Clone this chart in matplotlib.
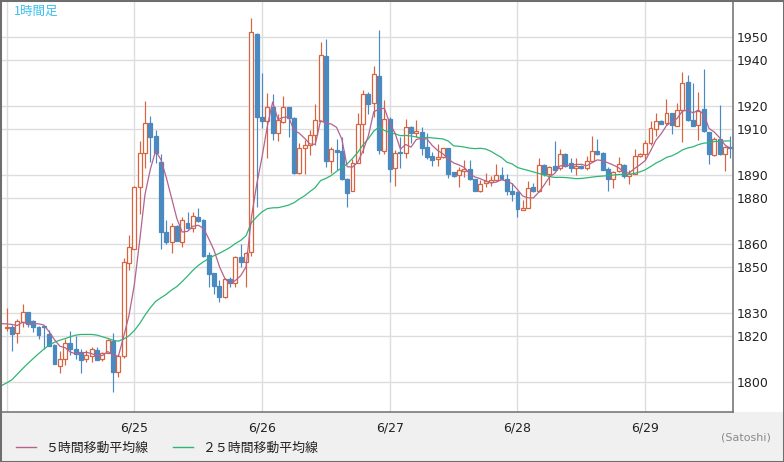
import matplotlib
matplotlib.use('Agg')
import matplotlib.pyplot as plt
from matplotlib.lines import Line2D
from matplotlib.patches import Rectangle
import numpy as np
import pandas as pd


######### Data (hourly candles, 6/24 00:00 -> 6/29 16:00) #########
opens = [
    1823.5, 1823.9, 1821.3, 1826.3, 1830.5, 1826.5, 1823.9, 1824.3, 1820.8, 1816.2,
    1807.2, 1810.0, 1817.3, 1814.4, 1813.0, 1810.0, 1811.6, 1814.0, 1810.1, 1812.9,
    1818.1, 1804.3, 1811.4, 1852.0, 1858.1, 1885.1, 1899.6, 1912.6, 1907.1, 1895.9,
    1865.5, 1861.2, 1868.0, 1861.2, 1869.1, 1867.0, 1871.9, 1870.6, 1855.4, 1847.7,
    1841.9, 1837.0, 1844.8, 1843.0, 1854.6, 1852.5, 1856.5, 1951.4, 1915.2, 1913.6,
    1919.9, 1908.3, 1913.3, 1919.6, 1914.8, 1891.2, 1901.7, 1903.2, 1907.5, 1913.8,
    1942.0, 1896.4, 1901.0, 1900.6, 1888.6, 1883.3, 1895.5, 1912.3, 1925.4, 1921.3,
    1933.2, 1900.7, 1914.6, 1893.0, 1900.1, 1899.6, 1910.9, 1908.3, 1909.0, 1902.5,
    1898.4, 1897.0, 1898.1, 1901.7, 1891.6, 1890.1, 1892.0, 1892.6, 1888.4, 1883.3,
    1886.5, 1887.0, 1888.1, 1890.1, 1888.6, 1883.3, 1882.6, 1875.1, 1875.8, 1884.8,
    1883.0, 1894.5, 1890.7, 1893.9, 1893.2, 1899.3, 1895.4, 1893.2, 1894.2, 1893.2,
    1896.1, 1900.7, 1899.7, 1892.8, 1888.4, 1891.7, 1894.5, 1889.6, 1890.7, 1898.3,
    1899.3, 1904.1, 1910.3, 1913.8, 1912.8, 1917.1, 1911.6, 1918.3, 1930.4, 1913.9,
    1912.0, 1918.8, 1908.7, 1898.8, 1905.8, 1899.4, 1902.3,
]
highs = [
    1832.2, 1824.9, 1827.5, 1834.0, 1830.6, 1827.2, 1824.6, 1824.6, 1822.7, 1816.5,
    1813.6, 1818.7, 1822.4, 1820.1, 1814.4, 1814.0, 1815.2, 1815.5, 1813.3, 1818.8,
    1821.3, 1812.3, 1854.0, 1864.0, 1885.2, 1904.9, 1922.3, 1915.8, 1909.7, 1899.3,
    1870.4, 1869.4, 1868.2, 1872.0, 1874.2, 1874.0, 1875.9, 1871.0, 1856.8, 1847.7,
    1844.5, 1845.5, 1845.7, 1854.9, 1860.1, 1856.5, 1958.5, 1951.7, 1934.6, 1925.7,
    1925.4, 1916.5, 1924.5, 1919.9, 1915.2, 1904.2, 1905.4, 1909.7, 1921.0, 1948.1,
    1949.1, 1902.5, 1906.0, 1906.8, 1888.8, 1897.0, 1917.0, 1927.1, 1926.4, 1937.5,
    1953.2, 1922.8, 1915.2, 1901.0, 1906.8, 1914.3, 1911.4, 1914.1, 1910.9, 1908.3,
    1900.3, 1903.6, 1902.0, 1902.0, 1891.6, 1893.8, 1896.7, 1896.7, 1888.5, 1888.0,
    1890.9, 1889.5, 1894.9, 1893.5, 1890.7, 1886.7, 1883.0, 1879.4, 1887.4, 1886.7,
    1897.7, 1895.1, 1894.2, 1905.1, 1901.4, 1899.6, 1897.4, 1897.4, 1894.5, 1898.3,
    1907.0, 1905.9, 1900.0, 1893.5, 1892.0, 1898.0, 1895.0, 1892.5, 1901.4, 1899.7,
    1905.5, 1913.5, 1917.1, 1914.0, 1923.2, 1917.3, 1921.4, 1934.8, 1933.8, 1930.1,
    1926.1, 1936.2, 1908.9, 1906.7, 1920.7, 1902.6, 1907.0,
]
lows = [
    1822.4, 1813.7, 1817.2, 1824.2, 1823.9, 1822.0, 1819.0, 1814.5, 1815.8, 1808.0,
    1804.2, 1807.7, 1812.1, 1810.0, 1804.2, 1809.0, 1809.0, 1809.5, 1809.4, 1812.6,
    1795.9, 1802.4, 1810.4, 1848.8, 1857.8, 1873.2, 1893.0, 1895.9, 1895.5, 1857.8,
    1860.1, 1856.1, 1861.4, 1859.0, 1866.5, 1865.5, 1869.9, 1854.6, 1841.6, 1838.4,
    1834.9, 1836.8, 1841.6, 1841.6, 1850.0, 1841.6, 1855.0, 1876.4, 1910.4, 1897.4,
    1905.4, 1905.1, 1912.9, 1906.8, 1890.6, 1890.6, 1890.6, 1898.8, 1903.2, 1913.6,
    1893.8, 1890.9, 1892.3, 1888.0, 1876.4, 1883.0, 1895.3, 1899.6, 1916.7, 1915.5,
    1899.3, 1899.3, 1887.2, 1885.4, 1893.0, 1897.4, 1904.2, 1906.5, 1898.8, 1897.0,
    1894.1, 1894.1, 1897.4, 1888.7, 1889.4, 1885.1, 1889.4, 1888.0, 1883.0, 1882.9,
    1885.1, 1885.2, 1887.4, 1888.4, 1881.6, 1878.7, 1871.9, 1874.9, 1875.8, 1882.8,
    1882.8, 1889.9, 1886.0, 1892.0, 1892.5, 1893.8, 1891.3, 1890.3, 1892.9, 1892.5,
    1895.7, 1899.0, 1892.3, 1883.0, 1884.5, 1891.5, 1889.0, 1886.4, 1890.4, 1898.0,
    1896.8, 1903.3, 1907.0, 1912.3, 1912.0, 1908.1, 1911.6, 1904.3, 1913.6, 1911.3,
    1905.5, 1908.8, 1895.1, 1898.5, 1899.0, 1891.7, 1897.5,
]
closes = [
    1824.0, 1820.8, 1826.6, 1830.5, 1825.3, 1824.2, 1820.7, 1823.9, 1815.8, 1808.1,
    1810.1, 1817.3, 1814.3, 1812.2, 1809.8, 1811.7, 1814.4, 1809.7, 1812.6, 1818.4,
    1804.6, 1811.4, 1852.4, 1858.7, 1884.8, 1899.6, 1912.6, 1906.8, 1899.6, 1865.5,
    1861.2, 1868.0, 1861.6, 1870.4, 1867.0, 1872.2, 1870.3, 1855.1, 1847.1, 1842.0,
    1837.0, 1844.9, 1843.3, 1854.3, 1852.5, 1856.1, 1952.2, 1915.2, 1913.8, 1919.9,
    1908.3, 1914.1, 1919.9, 1914.8, 1890.9, 1901.7, 1903.2, 1907.5, 1914.1, 1942.3,
    1896.4, 1901.3, 1900.3, 1888.3, 1882.5, 1895.5, 1912.3, 1925.4, 1921.0, 1934.1,
    1901.0, 1914.3, 1892.6, 1899.6, 1899.6, 1910.9, 1908.6, 1909.3, 1902.0, 1898.1,
    1896.7, 1898.1, 1901.7, 1890.6, 1889.9, 1892.3, 1892.6, 1888.3, 1883.3, 1886.2,
    1887.5, 1888.1, 1890.1, 1888.6, 1883.0, 1882.0, 1875.4, 1876.0, 1884.5, 1883.0,
    1894.5, 1890.7, 1893.6, 1892.5, 1899.3, 1894.2, 1893.2, 1894.2, 1893.2, 1896.1,
    1900.7, 1899.4, 1892.5, 1888.4, 1891.4, 1894.9, 1889.6, 1890.7, 1898.3, 1899.3,
    1904.1, 1910.6, 1913.8, 1912.5, 1917.1, 1912.0, 1918.3, 1930.1, 1913.9, 1911.6,
    1918.1, 1909.1, 1899.3, 1905.8, 1899.4, 1902.3, 1901.9,
]
# closes of the 25 hours before 6/24 00:00 (off chart), estimated from the MA lines
earlier_closes = [
    1794.0, 1785.8, 1766.6, 1770.5, 1767.8, 1771.7, 1768.2, 1773.9, 1770.8, 1778.1,
    1787.6, 1799.8, 1794.3, 1794.7, 1802.3, 1811.7, 1814.4, 1817.2, 1830.1, 1835.9,
    1824.6, 1822.0, 1829.0, 1823.0, 1829.0,
]

day_labels = ['6/25', '6/26', '6/27', '6/28', '6/29']
price_ticks = [1800, 1820, 1830, 1850, 1860, 1880, 1890, 1910, 1920, 1940, 1950]

UP = '#d9633d'
DOWN = '#4b89c1'
MA5_COLOR = '#b4638f'
MA25_COLOR = '#2fb677'
GRID = '#dddddd'
FRAME = '#6e6e6e'
CJK = ['Noto Sans CJK JP', 'DejaVu Sans']

W, H = 784, 462
fig = plt.figure(figsize=(W / 100, H / 100), dpi=100)
fig.patch.set_facecolor('white')

# grey legend strip under the plot + outer frame
fig.patches.append(Rectangle((0, 0), 1, 50 / H, transform=fig.transFigure,
                             facecolor='#f0f0f0', edgecolor='none', zorder=-5))
fig.patches.append(Rectangle((0, 0), 1, 1, transform=fig.transFigure,
                             facecolor='none', edgecolor=FRAME, lw=2.2, zorder=10))

ax = fig.add_axes([1 / W, 50 / H, 732 / W, 411 / H])
ax.set_facecolor('white')

######### Candles #########
o = np.array(opens)
h = np.array(highs)
l = np.array(lows)
c = np.array(closes)
x = np.arange(len(c))
up = c >= o
cols = np.where(up, UP, DOWN)

ax.vlines(x, l, h, colors=cols, lw=0.85, zorder=2)
body = np.maximum(np.abs(c - o), 0.15)
ax.bar(x, body, bottom=np.minimum(o, c), width=0.74,
       color=np.where(up, 'white', DOWN), edgecolor=cols, lw=0.9, zorder=3)

######### Moving averages #########
all_closes = pd.Series(earlier_closes + closes)
x_all = np.arange(-len(earlier_closes), len(closes))
ma5 = all_closes.rolling(5).mean()
ma25 = all_closes.rolling(25).mean()
keep = x_all >= -1
ax.plot(x_all[keep], ma25[keep], color=MA25_COLOR, lw=0.9, zorder=4)
ax.plot(x_all[keep], ma5[keep], color=MA5_COLOR, lw=0.9, zorder=5)

######### Axes #########
ax.set_xlim(-1.05, 136.5)
ax.set_ylim(1787.1, 1965.8)

ax.set_xticks([0, 24, 48, 72, 96, 120])
ax.set_xticklabels([''] + day_labels)
ax.set_yticks(price_ticks)
ax.set_yticklabels([str(v) for v in price_ticks])
ax.yaxis.tick_right()
ax.tick_params(axis='x', length=0, pad=7, labelsize=9, labelcolor='#222222')
ax.tick_params(axis='y', length=0, pad=3, labelsize=9, labelcolor='#222222')

ax.grid(True, color=GRID, lw=1)
ax.set_axisbelow(True)
for s in ax.spines.values():
    s.set_color(FRAME)
    s.set_linewidth(1.1)

######### Texts / legend #########
fig.text(14 / W, 1 - 11 / H, '1時間足', color='#3bbfee', fontsize=9,
         va='center', ha='left', family=CJK)

fig.add_artist(Line2D([16 / W, 36 / W], [1 - 447 / H] * 2, color=MA5_COLOR, lw=1))
fig.text(45 / W, 1 - 448 / H, '５時間移動平均線', fontsize=9.3, color='#222222',
         va='center', ha='left', family=CJK)
fig.add_artist(Line2D([173 / W, 193 / W], [1 - 447 / H] * 2, color=MA25_COLOR, lw=1))
fig.text(202 / W, 1 - 448 / H, '２５時間移動平均線', fontsize=9.3, color='#222222',
         va='center', ha='left', family=CJK)

fig.text(771 / W, 1 - 438 / H, '(Satoshi)', fontsize=8, color='#8a8a8a',
         va='center', ha='right')

fig.savefig('out.png', dpi=100)
